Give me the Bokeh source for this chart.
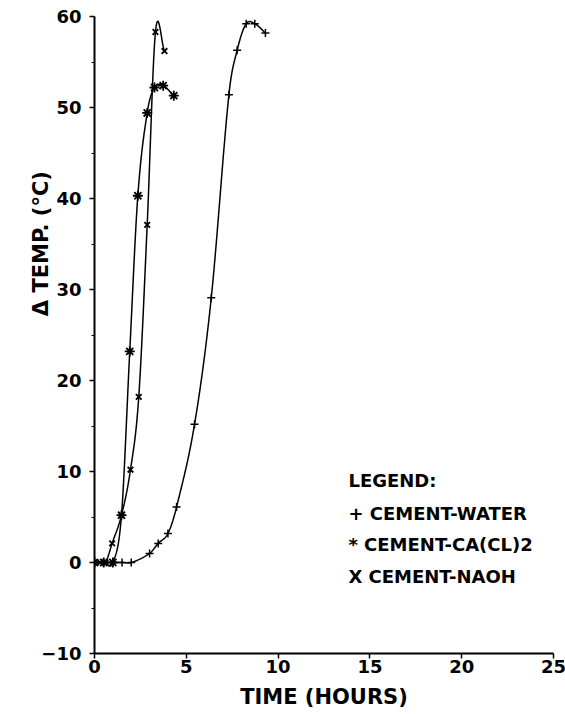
import numpy as np
from bokeh.plotting import figure
from bokeh.models import Range1d, SingleIntervalTicker, Label
from bokeh.embed import file_html
from bokeh.resources import INLINE

# ---- data ----
water_t = [0.0, 0.5, 1.0, 1.5, 2.0, 3.0, 3.47, 4.0, 4.47, 5.45, 6.36, 7.32, 7.77, 8.26, 8.73, 9.31]
water_y = [0.0, 0.0, 0.0, 0.0, 0.0, 1.0, 2.1, 3.2, 6.1, 15.2, 29.1, 51.4, 56.3, 59.2, 59.2, 58.2]

cacl_t = [0.0, 0.5, 1.0, 1.47, 1.92, 2.36, 2.87, 3.27, 3.74, 4.32]
cacl_y = [0.0, 0.0, 0.0, 5.2, 23.2, 40.3, 49.4, 52.2, 52.4, 51.3]

naoh_t = [0.0, 0.3, 0.6, 0.96, 1.47, 1.96, 2.41, 2.87, 3.32, 3.81]
naoh_y = [0.0, 0.0, 0.0, 2.1, 5.2, 10.2, 18.2, 37.1, 58.3, 56.2]

x_ticks = [0, 5, 10, 15, 20, 25]

FONT = "DejaVu Sans"


def smooth(xs, ys, n=30):
    """Cardinal (Catmull-Rom style) Hermite curve through the given points."""
    xs = np.asarray(xs, float)
    ys = np.asarray(ys, float)
    m = np.zeros_like(ys)
    m[0] = (ys[1] - ys[0]) / (xs[1] - xs[0])
    m[-1] = (ys[-1] - ys[-2]) / (xs[-1] - xs[-2])
    for i in range(1, len(xs) - 1):
        m[i] = (ys[i + 1] - ys[i - 1]) / (xs[i + 1] - xs[i - 1])
    ox, oy = [], []
    for i in range(len(xs) - 1):
        h = xs[i + 1] - xs[i]
        t = np.linspace(0, 1, n, endpoint=(i == len(xs) - 2))
        h00 = 2 * t**3 - 3 * t**2 + 1
        h10 = t**3 - 2 * t**2 + t
        h01 = -2 * t**3 + 3 * t**2
        h11 = t**3 - t**2
        ox.extend(xs[i] + t * h)
        oy.extend(h00 * ys[i] + h10 * h * m[i] + h01 * ys[i + 1] + h11 * h * m[i + 1])
    return ox, oy


p = figure(frame_width=459, frame_height=637, output_backend="svg",
           toolbar_location=None, x_range=Range1d(0, 25), y_range=Range1d(-10, 60),
           min_border_left=94, min_border_top=16, min_border_right=14, min_border_bottom=10)
p.outline_line_color = None
p.xgrid.visible = False
p.ygrid.visible = False
p.background_fill_color = "white"

for xs, ys in [(water_t, water_y), (cacl_t, cacl_y), (naoh_t, naoh_y)]:
    sx, sy = smooth(xs, ys)
    p.line(sx, sy, line_color="black", line_width=1.5)

p.scatter(water_t, water_y, marker="cross", size=8, line_color="black", line_width=1.5)
p.scatter(cacl_t, cacl_y, marker="asterisk", size=10, line_color="black", line_width=1.8)
p.scatter(naoh_t, naoh_y, marker="x", size=8, line_color="black", line_width=1.8)

p.xaxis.ticker = x_ticks
p.yaxis.ticker = SingleIntervalTicker(interval=10, num_minor_ticks=2)
for ax in (p.xaxis[0], p.yaxis[0]):
    ax.axis_line_width = 2
    ax.axis_line_color = "black"
    ax.major_tick_line_color = "black"
    ax.major_tick_line_width = 1.5
    ax.major_tick_out = 5
    ax.major_tick_in = 0
    ax.major_label_text_font = FONT
    ax.major_label_text_font_style = "bold"
    ax.major_label_text_font_size = "18px"
    ax.major_label_text_color = "black"
    ax.axis_label_text_font = FONT
    ax.axis_label_text_font_style = "bold"
    ax.axis_label_text_font_size = "21px"
    ax.axis_label_text_color = "black"
p.xaxis.minor_tick_line_color = None
p.yaxis.minor_tick_line_color = "black"
p.yaxis.minor_tick_out = 3
p.yaxis.minor_tick_in = 0
p.yaxis.major_label_standoff = 8
p.xaxis.major_label_standoff = 1

p.xaxis.axis_label = "TIME (HOURS)"
p.xaxis.axis_label_standoff = 9

# leading no-break spaces shift the rotated label upward, as in the reference
p.yaxis.axis_label = "\u00a0" * 25 + "\u0394 TEMP. (\u00b0C)"
p.yaxis.axis_label_standoff = -15

legend_lines = ["LEGEND:", "+ CEMENT-WATER", "* CEMENT-CA(CL)2", "X CEMENT-NAOH"]
legend_y = [9.0, 5.4, 2.0, -1.5]
for txt, ly in zip(legend_lines, legend_y):
    p.add_layout(Label(x=13.83, y=ly, text=txt, text_align="left", text_baseline="middle",
                       text_font=FONT, text_font_style="bold", text_font_size="18px",
                       text_color="black"))

open("out.html", "w").write(file_html(p, INLINE))
